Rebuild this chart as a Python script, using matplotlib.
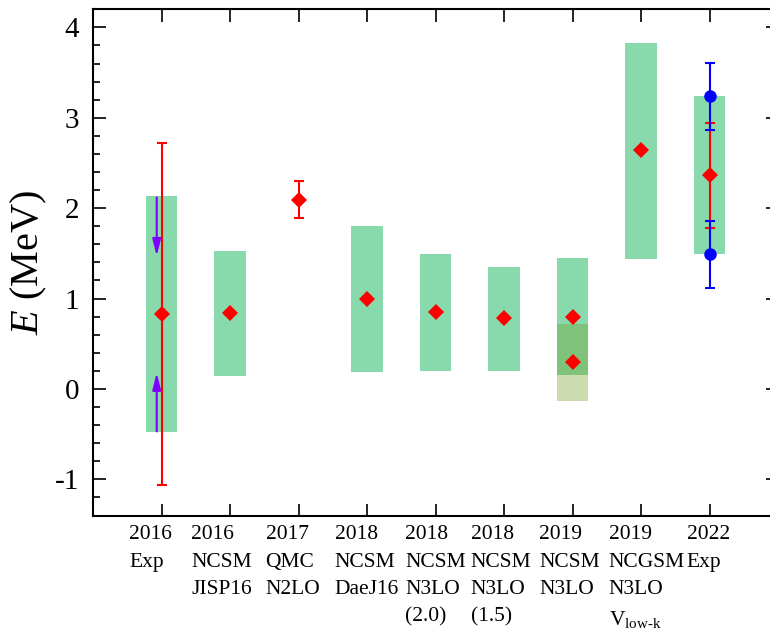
import numpy as np
import matplotlib
matplotlib.use('Agg')
import matplotlib.pyplot as plt
from matplotlib.ticker import MultipleLocator

plt.rcParams['font.family'] = ['Liberation Serif', 'DejaVu Serif']
plt.rcParams['mathtext.fontset'] = 'custom'
plt.rcParams['mathtext.rm'] = 'Liberation Serif'
plt.rcParams['mathtext.it'] = 'Liberation Serif:italic'

labels = ['2016\nExp', '2016\nNCSM\nJISP16', '2017\nQMC\nN2LO', '2018\nNCSM\nDaeJ16',
          '2018\nNCSM\nN3LO\n(2.0)', '2018\nNCSM\nN3LO\n(1.5)', '2019\nNCSM\nN3LO',
          '2019\nNCGSM\nN3LO\n$\\mathrm{V}_{\\mathrm{low\\text{-}k}}$', '2022\nExp']
xpos = np.arange(1, 10)

# theory bands (MeV), nan = no band
band_lo = [-0.48, 0.14, np.nan, 0.19, 0.20, 0.20, 0.15, 1.44, 1.49]
band_hi = [2.13, 1.53, np.nan, 1.80, 1.49, 1.35, 1.45, 3.83, 3.24]
centre = [0.83, 0.84, 2.09, 0.99, 0.85, 0.78, 0.80, 2.64, 2.37]

# second 2019 NCSM band (overlaid)
band2_x = 7
band2_lo = -0.13
band2_hi = 0.72
band2_c = 0.30

# red error bars: x, value, lower err, upper err
err_x = [1, 3, 9]
err_y = [0.83, 2.09, 2.37]
err_lo = [1.89, 0.20, 0.59]
err_hi = [1.89, 0.21, 0.57]

# 2022 Exp blue points
blue_x = [9, 9]
blue_y = [3.24, 1.49]
blue_err = [0.37, 0.37]

# 2016 Exp limits (arrows): tail, head
arrow_x = 0.93
arrow_down = (2.12, 1.47)
arrow_up = (-0.47, 0.18)

green = '#88D9AC'
bw = 0.46

# horizontal nudge of each category label block, in points
label_nudge = [-8, -6, -4, 0, 0, -2, -2, 4, -1]

fig = plt.figure(figsize=(7.7, 6.33), dpi=100)
ax = fig.add_axes([0.1208, 0.1856, 0.8896, 0.7997])

for x, lo, hi in zip(xpos, band_lo, band_hi):
    if np.isnan(lo):
        continue
    ax.bar(x, hi - lo, bottom=lo, width=bw, color=green, zorder=1)
ax.bar(band2_x, band2_hi - band2_lo, bottom=band2_lo, width=bw,
       color='#71991F', alpha=0.35, zorder=1.5)

ax.errorbar(err_x, err_y, yerr=[err_lo, err_hi], fmt='none', ecolor='red',
            elinewidth=1.5, capsize=3.6, capthick=1.5, zorder=3)
ax.errorbar(blue_x, blue_y, yerr=blue_err, fmt='o', color='blue', ms=8,
            elinewidth=1.5, capsize=3.6, capthick=1.5, zorder=4)

ax.plot(xpos, centre, 'D', color='red', ms=8, mew=0, zorder=5)
ax.plot([band2_x], [band2_c], 'D', color='red', ms=8, mew=0, zorder=5)

for tail, head in [arrow_down, arrow_up]:
    ax.annotate('', xy=(arrow_x, head), xytext=(arrow_x, tail),
                arrowprops=dict(arrowstyle='-|>,head_length=1.0,head_width=0.25',
                                color='#8000FF', lw=1.5, shrinkA=0, shrinkB=0),
                zorder=2)

ax.set_xlim(0, 10)
ax.set_ylim(-1.4, 4.2)
ax.set_xticks(xpos)
ax.set_xticklabels([])
# category labels, left-aligned blocks under each tick
for x, lab, dx in zip(xpos, labels, label_nudge):
    ax.annotate(lab, xy=(x, 0), xycoords=ax.get_xaxis_transform(),
                xytext=(dx, -7), textcoords='offset points',
                ha='center', va='top', multialignment='left',
                fontsize=15.5, linespacing=1.6, annotation_clip=False)

ax.yaxis.set_major_locator(MultipleLocator(1))
ax.yaxis.set_minor_locator(MultipleLocator(0.2))
ax.set_yticks(range(-1, 5))
ax.set_yticklabels(['-1', '0', '1', '2', '3', '4'], fontsize=21)

ax.tick_params(axis='both', which='major', direction='in', length=9, width=1.2,
               top=True, right=True)
ax.tick_params(axis='y', which='minor', direction='in', length=5, width=1.2,
               right=True)
ax.tick_params(axis='y', which='major', pad=10)
for s in ax.spines.values():
    s.set_linewidth(1.5)

ax.set_ylabel('$E$ (MeV)', fontsize=29, labelpad=4)

fig.savefig('out.png', dpi=100)
